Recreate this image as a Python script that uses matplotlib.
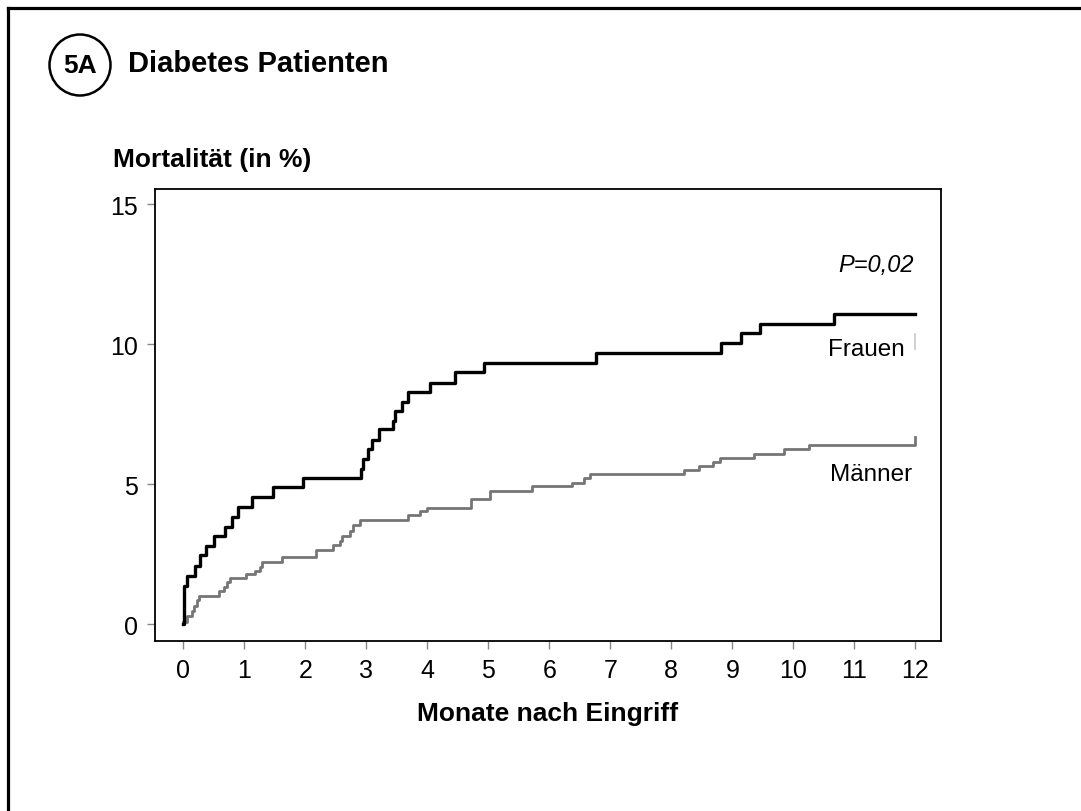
import matplotlib
matplotlib.use("Agg")
from matplotlib import pyplot as plt
from matplotlib.lines import Line2D
from matplotlib.patches import Ellipse

plt.rcParams['font.family'] = ['Liberation Sans', 'DejaVu Sans']

# Kaplan-Meier Stufen (Monate, Mortalität in %)
frauen_t = [0, 0.016, 0.055, 0.19, 0.27, 0.37, 0.50, 0.68, 0.80, 0.89, 1.12, 1.47,
            1.97, 2.91, 2.95, 3.02, 3.10, 3.21, 3.44, 3.47, 3.58, 3.69, 4.05, 4.45,
            4.93, 6.76, 8.81, 9.14, 9.45, 10.66, 12.0]
frauen_v = [0, 1.37, 1.73, 2.09, 2.45, 2.78, 3.13, 3.48, 3.82, 4.18, 4.53, 4.89,
            5.23, 5.55, 5.90, 6.24, 6.56, 6.98, 7.26, 7.60, 7.94, 8.29, 8.62, 9.00,
            9.34, 9.69, 10.05, 10.38, 10.73, 11.07, 11.07]

maenner_t = [0, 0.055, 0.14, 0.18, 0.22, 0.26, 0.585, 0.67, 0.72, 0.77, 1.03, 1.18,
             1.25, 1.29, 1.61, 2.17, 2.46, 2.57, 2.60, 2.73, 2.78, 2.90, 3.69, 3.88,
             3.99, 4.71, 5.03, 5.72, 6.37, 6.56, 6.67, 8.21, 8.45, 8.69, 8.80, 9.36,
             9.85, 10.25, 12.0]
maenner_v = [0.06, 0.27, 0.48, 0.66, 0.84, 1.01, 1.19, 1.31, 1.49, 1.63, 1.79, 1.91,
             2.03, 2.21, 2.39, 2.66, 2.83, 2.98, 3.14, 3.34, 3.54, 3.70, 3.88, 4.02,
             4.15, 4.47, 4.75, 4.93, 5.05, 5.21, 5.35, 5.49, 5.64, 5.79, 5.93, 6.09,
             6.24, 6.38, 6.68]

# kleiner Zensur-Strich am Ende der Frauen-Kurve
zensur_x = [12.0, 12.0]
zensur_y = [9.82, 10.36]

x_ticks = list(range(0, 13))
y_ticks = [0, 5, 10, 15]

W, H = 1081, 812
fig = plt.figure(figsize=(W / 100, H / 100), dpi=100)

def fx(px):
    return px / W

def fy(py):
    return 1 - py / H

ax = fig.add_axes([fx(155), fy(642), (941 - 155) / W, (642 - 190) / H])

ax.step(maenner_t, maenner_v, where='post', color='#757575', lw=2.0)
ax.step(frauen_t, frauen_v, where='post', color='black', lw=2.4)
ax.plot(zensur_x, zensur_y, color='#c8c8c8', lw=1.2)

ax.set_xlim(-0.464, 12.42)
ax.set_ylim(-0.607, 15.54)
ax.set_xticks(x_ticks)
ax.set_yticks(y_ticks)
ax.tick_params(axis='both', labelsize=18, length=6, width=1, color='#888888', pad=6)
for s in ax.spines.values():
    s.set_linewidth(1.3)

ax.text(11.98, 12.83, 'P=0,02', style='italic', fontsize=17, ha='right', va='center')
ax.text(10.57, 9.82, 'Frauen', fontsize=17.5, ha='left', va='center')
ax.text(10.6, 5.36, 'Männer', fontsize=17.5, ha='left', va='center')

# Rahmen oben und links
fig.add_artist(Line2D([fx(8), 1.0], [fy(8.5), fy(8.5)], color='black', lw=2.3))
fig.add_artist(Line2D([fx(8), fx(8)], [fy(8.5), 0.0], color='black', lw=2.3))

# Kreis mit Panel-Beschriftung
fig.add_artist(Ellipse((fx(80), fy(66)), 61 / W, 61 / H, transform=fig.transFigure,
                       fill=False, edgecolor='black', lw=1.8))
fig.text(fx(80), fy(66), '5A', fontsize=19, fontweight='bold', ha='center', va='center')

fig.text(fx(128), fy(64), 'Diabetes Patienten', fontsize=21, fontweight='bold',
         ha='left', va='center')
fig.text(fx(113), fy(160), 'Mortalität (in %)', fontsize=19, fontweight='bold',
         ha='left', va='center')
fig.text(fx(548), fy(714), 'Monate nach Eingriff', fontsize=19, fontweight='bold',
         ha='center', va='center')

fig.savefig('out.png', dpi=100)
